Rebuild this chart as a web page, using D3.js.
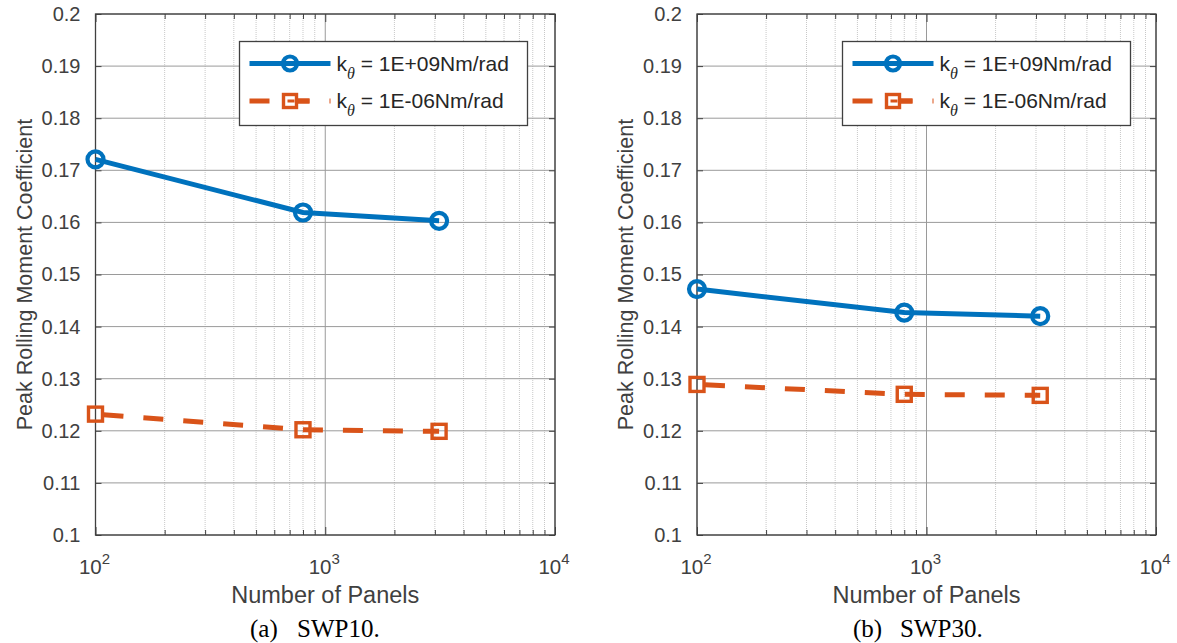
<!DOCTYPE html>
<html><head><meta charset="utf-8">
<script src="https://cdn.jsdelivr.net/npm/d3@7"></script>
<style>
html,body{margin:0;padding:0;background:#fff;}
</style></head>
<body>
<svg id="chart" width="1177" height="643" font-family="Liberation Sans, Arial, Helvetica, sans-serif"></svg>
<script>
// ---- data ----
const panels = [100, 800, 3130];
const swp10Rigid = [0.1721, 0.1619, 0.1603];
const swp10Free  = [0.1232, 0.1202, 0.1199];
const swp30Rigid = [0.1472, 0.1427, 0.1420];
const swp30Free  = [0.1289, 0.1270, 0.1268];
const seriesNames = ["1E+09Nm/rad", "1E-06Nm/rad"];
const yTicks = [0.1, 0.11, 0.12, 0.13, 0.14, 0.15, 0.16, 0.17, 0.18, 0.19, 0.2];
const yTickLabels = ["0.1","0.11","0.12","0.13","0.14","0.15","0.16","0.17","0.18","0.19","0.2"];
const xTicks = [100, 1000, 10000];
const xTickExps = ["2", "3", "4"];
const captionTags = ["(a)", "(b)"];
const captionNames = ["SWP10.", "SWP30."];
const xTitle = "Number of Panels";
const yTitle = "Peak Rolling Moment Coefficient";

const BLUE = "#0072BD", ORANGE = "#D95319";
const SANS = "Liberation Sans, Arial, Helvetica, sans-serif";
const SERIF = "Liberation Serif, Times New Roman, serif";
const svg = d3.select("#chart");

const panelsCfg = [
  {left: 95.5, right: 555, yl: 32, legX: 239.5, rigid: swp10Rigid, free: swp10Free, capX: 250},
  {left: 697, right: 1156, yl: 633, legX: 842.5, rigid: swp30Rigid, free: swp30Free, capX: 853}
];
const TOP = 14, BOT = 535;

panelsCfg.forEach((p, pi) => {
  const x = d3.scaleLog().domain([100, 10000]).range([p.left, p.right]);
  const y = d3.scaleLinear().domain([0.1, 0.2]).range([BOT, TOP]);
  const g = svg.append("g");

  // minor vertical grid (dotted)
  const minors = [];
  [100, 1000].forEach(d => { for (let k = 2; k <= 9; k++) minors.push(d * k); });
  g.selectAll(".mg").data(minors).enter().append("line")
    .attr("x1", d => x(d)).attr("x2", d => x(d)).attr("y1", TOP).attr("y2", BOT)
    .attr("stroke", "#c8c8c8").attr("stroke-width", 1).attr("stroke-dasharray", "1,1");
  // major vertical grid
  g.selectAll(".Mg").data(xTicks).enter().append("line")
    .attr("x1", d => x(d)).attr("x2", d => x(d)).attr("y1", TOP).attr("y2", BOT)
    .attr("stroke", "#9a9a9a").attr("stroke-width", 1);
  // horizontal grid
  g.selectAll(".hg").data(yTicks).enter().append("line")
    .attr("x1", p.left).attr("x2", p.right).attr("y1", d => y(d)).attr("y2", d => y(d))
    .attr("stroke", "#9a9a9a").attr("stroke-width", 1);

  // axes via d3 axis (ticks inward)
  const axL = d3.axisLeft(y).tickValues(yTicks).tickFormat((d, i) => yTickLabels[i]).tickSizeInner(-6).tickSizeOuter(0).tickPadding(15);
  const gl = g.append("g").attr("transform", `translate(${p.left},0)`).call(axL);
  gl.select(".domain").remove();
  gl.attr("font-family", SANS);
  gl.selectAll("line").attr("stroke", "#404040");
  gl.selectAll("text").attr("font-size", 20).attr("fill", "#404040");
  const axR = d3.axisRight(y).tickValues(yTicks).tickFormat("").tickSizeInner(-6).tickSizeOuter(0);
  const gr = g.append("g").attr("transform", `translate(${p.right},0)`).call(axR);
  gr.select(".domain").remove();
  gr.selectAll("line").attr("stroke", "#404040");

  const allX = xTicks.concat(minors);
  [BOT, TOP].forEach((yy, k) => {
    const ax = (k === 0 ? d3.axisBottom(x) : d3.axisTop(x)).tickValues(allX).tickFormat("")
      .tickSizeInner(0).tickSizeOuter(0);
    const gx = g.append("g").attr("transform", `translate(0,${yy})`).call(ax);
    gx.select(".domain").remove();
    gx.selectAll(".tick line").attr("y2", d => (k === 0 ? -1 : 1) * (xTicks.includes(d) ? 8 : 5)).attr("stroke", "#404040");
  });
  // x tick labels 10^n
  xTicks.forEach((d, i) => {
    const t = g.append("text").attr("x", x(d) - 1).attr("y", 574).attr("text-anchor", "middle")
      .attr("font-size", 20.5).attr("fill", "#404040");
    t.append("tspan").text("10");
    t.append("tspan").attr("dy", -10).attr("font-size", 15).text(xTickExps[i]);
  });

  // box
  g.append("rect").attr("x", p.left).attr("y", TOP).attr("width", p.right - p.left).attr("height", BOT - TOP)
    .attr("fill", "none").attr("stroke", "#404040").attr("stroke-width", 1.3);

  // titles
  g.append("text").attr("x", (p.left + p.right) / 2).attr("y", 603).attr("text-anchor", "middle")
    .attr("font-size", 23.5).attr("fill", "#404040").text(xTitle);
  g.append("text").attr("transform", `translate(${p.yl},${(TOP + BOT) / 2}) rotate(-90)`)
    .attr("text-anchor", "middle").attr("font-size", 21.5).attr("fill", "#404040").text(yTitle);

  // data lines
  const line = d3.line().x(d => x(d[0])).y(d => y(d[1]));
  const rigidPts = panels.map((n, i) => [n, p.rigid[i]]);
  const freePts = panels.map((n, i) => [n, p.free[i]]);
  g.append("path").attr("d", line(freePts)).attr("fill", "none").attr("stroke", ORANGE)
    .attr("stroke-width", 5).attr("stroke-dasharray", "20,20").attr("stroke-dashoffset", -8);
  g.selectAll(".sq").data(freePts).enter().append("rect")
    .attr("x", d => x(d[0]) - 7).attr("y", d => y(d[1]) - 7).attr("width", 14).attr("height", 14)
    .attr("fill", "none").attr("stroke", ORANGE).attr("stroke-width", 3.4);
  g.append("path").attr("d", line(rigidPts)).attr("fill", "none").attr("stroke", BLUE).attr("stroke-width", 5);
  g.selectAll(".ci").data(rigidPts).enter().append("circle")
    .attr("cx", d => x(d[0])).attr("cy", d => y(d[1])).attr("r", 8)
    .attr("fill", "none").attr("stroke", BLUE).attr("stroke-width", 4.2);

  // legend
  const L = g.append("g");
  L.append("rect").attr("x", p.legX).attr("y", 41.5).attr("width", 288).attr("height", 84)
    .attr("fill", "#fff").attr("stroke", "#404040").attr("stroke-width", 1.3);
  const rows = [63.5, 101];
  L.append("line").attr("x1", p.legX + 10).attr("x2", p.legX + 91).attr("y1", rows[0]).attr("y2", rows[0])
    .attr("stroke", BLUE).attr("stroke-width", 5);
  L.append("circle").attr("cx", p.legX + 50.5).attr("cy", rows[0]).attr("r", 7).attr("fill", "none")
    .attr("stroke", BLUE).attr("stroke-width", 4.2);
  L.append("line").attr("x1", p.legX + 10).attr("x2", p.legX + 91).attr("y1", rows[1]).attr("y2", rows[1])
    .attr("stroke", ORANGE).attr("stroke-width", 5).attr("stroke-dasharray", "20,20");
  L.append("rect").attr("x", p.legX + 44).attr("y", rows[1] - 6.5).attr("width", 13).attr("height", 13)
    .attr("fill", "#fff").attr("stroke", ORANGE).attr("stroke-width", 3.4);
  L.append("line").attr("x1", p.legX + 57).attr("x2", p.legX + 70).attr("y1", rows[1]).attr("y2", rows[1])
    .attr("stroke", ORANGE).attr("stroke-width", 5);
  L.append("line").attr("x1", p.legX + 48).attr("x2", p.legX + 55).attr("y1", rows[1]).attr("y2", rows[1])
    .attr("stroke", ORANGE).attr("stroke-width", 3);
  seriesNames.forEach((s, i) => {
    const t = L.append("text").attr("x", p.legX + 97).attr("y", rows[i] + 7).attr("font-size", 21).attr("fill", "#262626");
    t.append("tspan").text("k");
    t.append("tspan").attr("dy", 8).attr("font-size", 16).attr("font-style", "italic")
      .attr("font-family", SERIF).text("θ");
    t.append("tspan").attr("dy", -8).text(" = " + s);
  });

  // caption
  svg.append("text").attr("x", p.capX).attr("y", 637).attr("font-family", SERIF)
    .attr("font-size", 25).attr("fill", "#000").text(captionTags[pi]);
  svg.append("text").attr("x", p.capX + 47).attr("y", 637).attr("font-family", SERIF)
    .attr("font-size", 25).attr("fill", "#000").text(captionNames[pi]);
});
</script>
</body></html>
